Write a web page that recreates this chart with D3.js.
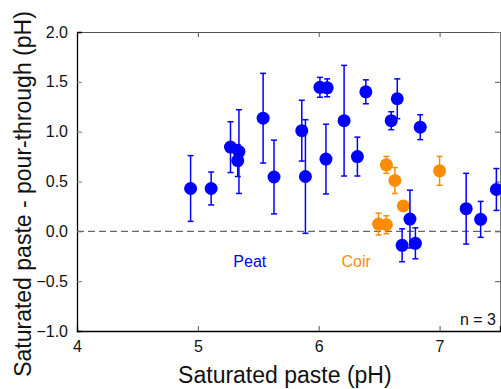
<!DOCTYPE html>
<meta charset="utf-8">
<head>
  <title>Saturated paste vs pour-through</title>
</head>

<style>
  body { margin: 0; background: #fff; }
  text { font-family: Arial, "Liberation Sans", sans-serif; }
</style>

<body>

  <div id="my_dataviz"></div>

  <script src="https://d3js.org/d3.v7.min.js"></script>
	<script>

	// data (mean and error, pH units)
	var peatPH   = [4.94, 5.11, 5.27, 5.34, 5.33, 5.54, 5.63, 5.86, 5.89, 6.01, 6.07, 6.06, 6.21, 6.32, 6.39, 6.60, 6.65, 6.84, 6.69, 6.755, 6.80, 7.22, 7.34, 7.47];
	var peatDiff = [0.43, 0.43, 0.845, 0.80, 0.71, 1.135, 0.545, 1.01, 0.55, 1.445, 1.44, 0.725, 1.11, 0.75, 1.40, 1.11, 1.33, 1.045, -0.14, 0.123, -0.12, 0.227, 0.12, 0.42];
	var peatErr  = [0.33, 0.165, 0.255, 0.42, 0.16, 0.45, 0.37, 0.305, 0.57, 0.10, 0.09, 0.35, 0.555, 0.195, 0.12, 0.09, 0.20, 0.125, 0.165, 0.29, 0.155, 0.355, 0.18, 0.21];

	var coirPH   = [6.495, 6.56, 6.56, 6.63, 6.70, 7.00];
	var coirDiff = [0.073, 0.066, 0.667, 0.51, 0.254, 0.607];
	var coirErr  = [0.11, 0.09, 0.085, 0.13, 0.02, 0.145];

	var xTicks = [4, 5, 6, 7];
	var yTicks = [-1.0, -0.5, 0.0, 0.5, 1.0, 1.5, 2.0];

	var peatColor = "#0000ff",
		coirColor = "#ff8c00";

	// set the dimensions and margins of the graph
	var margin = {top: 32, right: 1, bottom: 58, left: 77},
		width = 501 - margin.left - margin.right,
		height = 389 - margin.top - margin.bottom;

	var svg = d3.select("#my_dataviz")
	  .append("svg")
		.attr("width", width + margin.left + margin.right)
		.attr("height", height + margin.top + margin.bottom)
	  .append("g")
		.attr("transform", "translate(" + margin.left + "," + margin.top + ")");

	var x = d3.scaleLinear().domain([4, 7.5]).range([0, width]);
	var y = d3.scaleLinear().domain([-1, 2]).range([height, 0]);

	// frame: top and right axes with inward ticks, no labels
	svg.append("g")
		.call(d3.axisTop(x).tickValues(xTicks.slice(1)).tickSize(-5).tickFormat(""))
		.call(function(g) { g.select(".domain").attr("stroke", "#555"); g.selectAll(".tick line").attr("stroke", "#555"); });
	svg.append("g")
		.attr("transform", "translate(" + width + ",0)")
		.call(d3.axisRight(y).tickValues(yTicks.slice(1, -1)).tickSize(-5).tickFormat(""))
		.call(function(g) { g.select(".domain").attr("stroke", "#777"); g.selectAll(".tick line").attr("stroke", "#555"); });

	// bottom axis
	svg.append("g")
		.attr("transform", "translate(0," + height + ")")
		.call(d3.axisBottom(x).tickValues(xTicks).tickSize(-5).tickPadding(10).tickFormat(d3.format("d")))
		.call(function(g) {
		  g.select(".domain").attr("stroke", "#000").attr("stroke-width", 1.3);
		  g.selectAll(".tick line").attr("stroke", "#555").filter(function(d) { return d === 4; }).remove();
		  g.selectAll(".tick text").attr("font-size", 16).attr("fill", "#111").attr("font-family", "Arial, 'Liberation Sans', sans-serif");
		});

	// left axis
	svg.append("g")
		.call(d3.axisLeft(y).tickValues(yTicks).tickSize(-5).tickPadding(9).tickFormat(d3.format(".1f")))
		.call(function(g) {
		  g.select(".domain").attr("stroke", "#000").attr("stroke-width", 1.3);
		  g.selectAll(".tick line").attr("stroke", "#777").filter(function(d) { return d === -1 || d === 2; }).remove();
		  g.selectAll(".tick text").attr("font-size", 16).attr("fill", "#111").attr("font-family", "Arial, 'Liberation Sans', sans-serif");
		});

	// zero line
	svg.append("line")
		.attr("x1", 0).attr("x2", width)
		.attr("y1", y(0)).attr("y2", y(0))
		.attr("stroke", "#666")
		.attr("stroke-width", 1.3)
		.attr("stroke-dasharray", "7,4");

	// error bars + points for one series
	function drawSeries(xs, ys, es, color) {
	  var data = xs.map(function(v, i) { return {x: v, y: ys[i], e: es[i]}; });
	  var g = svg.append("g");
	  var bars = g.selectAll(".err").data(data).enter().append("g")
		  .attr("stroke", color).attr("stroke-width", 1.5);
	  bars.append("line")
		  .attr("x1", function(d) { return x(d.x); }).attr("x2", function(d) { return x(d.x); })
		  .attr("y1", function(d) { return y(d.y + d.e); }).attr("y2", function(d) { return y(d.y - d.e); });
	  bars.append("line")
		  .attr("x1", function(d) { return x(d.x) - 3; }).attr("x2", function(d) { return x(d.x) + 3; })
		  .attr("y1", function(d) { return y(d.y + d.e); }).attr("y2", function(d) { return y(d.y + d.e); });
	  bars.append("line")
		  .attr("x1", function(d) { return x(d.x) - 3; }).attr("x2", function(d) { return x(d.x) + 3; })
		  .attr("y1", function(d) { return y(d.y - d.e); }).attr("y2", function(d) { return y(d.y - d.e); });
	  g.selectAll("circle").data(data).enter().append("circle")
		  .attr("cx", function(d) { return x(d.x); })
		  .attr("cy", function(d) { return y(d.y); })
		  .attr("r", 6.5)
		  .style("fill", color);
	}

	drawSeries(coirPH, coirDiff, coirErr, coirColor);
	drawSeries(peatPH, peatDiff, peatErr, peatColor);

	// labels
	svg.append("text").attr("x", x(5.43)).attr("y", 235).attr("text-anchor", "middle")
		.style("font-size", "16px").style("fill", peatColor).text("Peat");
	svg.append("text").attr("x", x(6.31)).attr("y", 235).attr("text-anchor", "middle")
		.style("font-size", "16px").style("fill", coirColor).text("Coir");
	svg.append("text").attr("x", width - 4).attr("y", height - 6).attr("text-anchor", "end")
		.style("font-size", "16px").style("fill", "#111").text("n = 3");

	// axis titles
	svg.append("text").attr("x", x(5.72)).attr("y", height + 52).attr("text-anchor", "middle")
		.style("font-size", "23px").style("fill", "#111").text("Saturated paste (pH)");
	svg.append("text")
		.attr("transform", "translate(" + (31 - margin.left) + "," + (194 - margin.top) + ") rotate(-90)")
		.attr("text-anchor", "middle")
		.style("font-size", "23px").style("fill", "#111").text("Saturated paste - pour-through (pH)");

	</script>
</body>
</html>
